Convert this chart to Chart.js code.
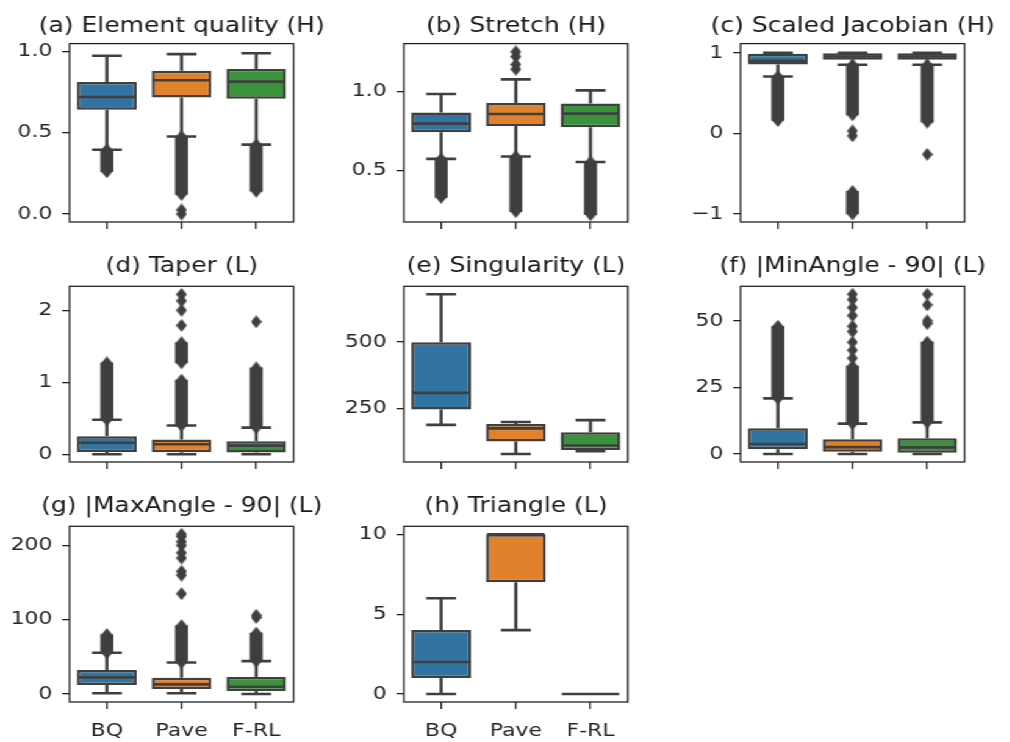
<!DOCTYPE html>
<html>
<head>
<meta charset="utf-8">
<script src="https://cdn.jsdelivr.net/npm/chart.js@4.4.0/dist/chart.umd.min.js"></script>
<style>
html, body { margin: 0; padding: 0; background: #fff; }
#fig { position: relative; width: 828px; height: 742px; transform: scaleX(1.22); transform-origin: 0 0; }
#fig canvas { position: absolute; }
</style>
</head>
<body>
<div id="fig"></div>
<script>
var categories = ['BQ', 'Pave', 'F-RL'];
var boxColors = ['#3274a1', '#e1812c', '#3a923a'];
var gray = '#3f3f3f';

// box summaries per method: [low whisker, Q1, median, Q3, high whisker]
// runs = dense outlier columns [method, from, to], fliers = single outliers [method, value]
var qualityBoxes = [[0.396, 0.642, 0.72, 0.813, 0.974], [0.477, 0.718, 0.823, 0.882, 0.984], [0.427, 0.709, 0.815, 0.892, 0.99]];
var qualityRuns = [[0, 0.26, 0.396], [1, 0.12, 0.477], [2, 0.14, 0.427]];
var qualityFliers = [[1, 0.0], [1, 0.025]];
var qualityTicks = [0, 0.5, 1];
var qualityLabels = ['0.0', '0.5', '1.0'];

var stretchBoxes = [[0.573, 0.742, 0.796, 0.866, 0.983], [0.588, 0.781, 0.857, 0.926, 1.076], [0.553, 0.773, 0.859, 0.924, 1.006]];
var stretchRuns = [[0, 0.33, 0.573], [1, 0.24, 0.588], [2, 0.22, 0.553]];
var stretchFliers = [[1, 1.14], [1, 1.17], [1, 1.22], [1, 1.25]];
var stretchTicks = [0.5, 1];
var stretchLabels = ['0.5', '1.0'];

var jacobianBoxes = [[0.707, 0.856, 0.90, 0.99, 1.0], [0.852, 0.913, 0.954, 0.995, 1.0], [0.852, 0.913, 0.955, 0.995, 1.0]];
var jacobianRuns = [[0, 0.16, 0.707], [1, 0.23, 0.852], [1, -1.0, -0.72], [2, 0.14, 0.852]];
var jacobianFliers = [[1, 0.03], [1, -0.03], [2, -0.26]];
var jacobianTicks = [-1, 0, 1];
var jacobianLabels = ['\u22121', '0', '1'];

var taperBoxes = [[0, 0.032, 0.16, 0.25, 0.48], [0, 0.028, 0.139, 0.204, 0.40], [0, 0.025, 0.12, 0.18, 0.37]];
var taperRuns = [[0, 0.48, 1.27], [1, 0.40, 1.03], [1, 1.27, 1.55], [2, 0.37, 1.2]];
var taperFliers = [[1, 1.79], [1, 2.0], [1, 2.13], [1, 2.22], [2, 1.84]];
var taperTicks = [0, 1, 2];
var taperLabels = ['0', '1', '2'];

var singularityBoxes = [[187, 245, 308, 499, 680], [77, 124, 174, 190, 198], [88, 92, 109, 159, 205]];
var singularityTicks = [250, 500];
var singularityLabels = ['250', '500'];

var minAngleBoxes = [[0, 1.77, 3.76, 9.66, 20.9], [0, 0.87, 2.6, 5.5, 11.4], [0, 0.5, 2.5, 5.9, 11.9]];
var minAngleRuns = [[0, 20.9, 48], [1, 11.4, 33], [2, 11.9, 42]];
var minAngleFliers = [[1, 36], [1, 39], [1, 42], [1, 46], [1, 48], [1, 52], [1, 55], [1, 58], [1, 60], [2, 49], [2, 50], [2, 56], [2, 60]];
var minAngleTicks = [0, 25, 50];
var minAngleLabels = ['0', '25', '50'];

var maxAngleBoxes = [[1, 12.1, 22.4, 32.2, 55.5], [1, 6.7, 13, 21.9, 42.5], [0, 4, 9.8, 23, 44.3]];
var maxAngleRuns = [[0, 55.5, 80], [1, 42.5, 92], [2, 44.3, 82]];
var maxAngleFliers = [[1, 135], [1, 160], [1, 165], [1, 183], [1, 190], [1, 200], [1, 205], [1, 212], [1, 215], [2, 103], [2, 106]];
var maxAngleTicks = [0, 100, 200];
var maxAngleLabels = ['0', '100', '200'];

var triangleBoxes = [[0, 1, 2, 4, 6], [4, 7, 10, 10, 10], [0, 0, 0, 0, 0]];
var triangleTicks = [0, 5, 10];
var triangleLabels = ['0', '5', '10'];

var panels = [
    { title: '(a) Element quality (H)', boxes: qualityBoxes, runs: qualityRuns, fliers: qualityFliers, ticks: qualityTicks, labels: qualityLabels, range: [-0.049, 1.049], col: 0, row: 0 },
    { title: '(b) Stretch (H)', boxes: stretchBoxes, runs: stretchRuns, fliers: stretchFliers, ticks: stretchTicks, labels: stretchLabels, range: [0.174, 1.302], col: 1, row: 0 },
    { title: '(c) Scaled Jacobian (H)', boxes: jacobianBoxes, runs: jacobianRuns, fliers: jacobianFliers, ticks: jacobianTicks, labels: jacobianLabels, range: [-1.1, 1.115], col: 2, row: 0 },
    { title: '(d) Taper (L)', boxes: taperBoxes, runs: taperRuns, fliers: taperFliers, ticks: taperTicks, labels: taperLabels, range: [-0.107, 2.333], col: 0, row: 1 },
    { title: '(e) Singularity (L)', boxes: singularityBoxes, runs: [], fliers: [], ticks: singularityTicks, labels: singularityLabels, range: [47, 710], col: 1, row: 1 },
    { title: '(f) |MinAngle - 90| (L)', boxes: minAngleBoxes, runs: minAngleRuns, fliers: minAngleFliers, ticks: minAngleTicks, labels: minAngleLabels, range: [-3, 63], col: 2, row: 1 },
    { title: '(g) |MaxAngle - 90| (L)', boxes: maxAngleBoxes, runs: maxAngleRuns, fliers: maxAngleFliers, ticks: maxAngleTicks, labels: maxAngleLabels, range: [-10.75, 225.75], col: 0, row: 2 },
    { title: '(h) Triangle (L)', boxes: triangleBoxes, runs: [], fliers: [], ticks: triangleTicks, labels: triangleLabels, range: [-0.5, 10.5], col: 1, row: 2 }
];

// layout in page pixels (the figure is stretched horizontally by S)
var S = 1.22;
var colLeft = [69, 404, 740];
var plotW = 224;
var rowTop = [43.3, 286, 526];
var rowBottom = [221.7, 461.7, 701.7];
var titleMid = [26, 266, 506];
var titleSize = 20.5;

Chart.defaults.font.family = 'DejaVu Sans';
Chart.defaults.color = '#262626';

// thin diamond marker like seaborn fliers
function makeDiamond() {
    var c = document.createElement('canvas');
    c.width = 9;
    c.height = 13;
    var g = c.getContext('2d');
    g.fillStyle = gray;
    g.beginPath();
    g.moveTo(4.5, 0);
    g.lineTo(9, 6.5);
    g.lineTo(4.5, 13);
    g.lineTo(0, 6.5);
    g.closePath();
    g.fill();
    return c;
}
var diamond = makeDiamond();

// whiskers, caps and medians, drawn right after the boxes
var whiskerPlugin = {
    id: 'whiskers',
    afterDatasetDraw: function (chart, args) {
        if (args.index !== 0) return;
        var boxes = chart.options.plugins.whiskers.boxes;
        var y = chart.scales.y;
        var ctx = chart.ctx;
        ctx.save();
        ctx.strokeStyle = gray;
        ctx.lineWidth = 2.6;
        chart.getDatasetMeta(0).data.forEach(function (bar, i) {
            var b = boxes[i];
            var half = bar.width / 2;
            var lo = y.getPixelForValue(b[0]);
            var q1 = y.getPixelForValue(b[1]);
            var med = y.getPixelForValue(b[2]);
            var q3 = y.getPixelForValue(b[3]);
            var hi = y.getPixelForValue(b[4]);
            ctx.beginPath();
            ctx.moveTo(bar.x, q1); ctx.lineTo(bar.x, lo);
            ctx.moveTo(bar.x, q3); ctx.lineTo(bar.x, hi);
            ctx.moveTo(bar.x - half / 2, lo); ctx.lineTo(bar.x + half / 2, lo);
            ctx.moveTo(bar.x - half / 2, hi); ctx.lineTo(bar.x + half / 2, hi);
            ctx.moveTo(bar.x - half + 1, med); ctx.lineTo(bar.x + half - 1, med);
            ctx.stroke();
        });
        ctx.restore();
    }
};

// axes frame on all four sides
var framePlugin = {
    id: 'frame',
    afterDraw: function (chart) {
        var a = chart.chartArea;
        var ctx = chart.ctx;
        ctx.save();
        ctx.strokeStyle = '#222';
        ctx.lineWidth = 1.3;
        ctx.strokeRect(a.left, a.top, a.right - a.left, a.bottom - a.top);
        ctx.restore();
    }
};

function noPadding(s) {
    s.paddingTop = 0;
    s.paddingBottom = 0;
    s.paddingLeft = 0;
    s.paddingRight = 0;
}

function makePanel(p) {
    var M = 48;
    var pl = colLeft[p.col] / S;
    var pw = plotW / S;
    var titleH = titleSize * 1.2;
    var top = titleMid[p.row] - titleH / 2;
    var xh = p.row === 2 ? 46 : 10;
    var canvas = document.createElement('canvas');
    canvas.width = Math.round(pw + 2 * M);
    canvas.height = Math.round(rowBottom[p.row] - top + xh);
    canvas.style.left = (pl - M) + 'px';
    canvas.style.top = top + 'px';
    document.getElementById('fig').appendChild(canvas);
    var rightW = canvas.width - M - pw;
    var axisH = canvas.height - (rowBottom[p.row] - top);

    var flierData = p.fliers.map(function (f) {
        return { x: categories[f[0]], y: f[1] };
    });
    p.runs.forEach(function (r) {
        flierData.push({ x: categories[r[0]], y: r[1] });
        flierData.push({ x: categories[r[0]], y: r[2] });
    });

    new Chart(canvas, {
        type: 'bar',
        data: {
            labels: categories,
            datasets: [
                {
                    data: p.boxes.map(function (b) { return [b[1], b[3]]; }),
                    backgroundColor: boxColors,
                    borderColor: gray,
                    borderWidth: 2.5,
                    borderSkipped: false,
                    grouped: false,
                    categoryPercentage: 0.8,
                    barPercentage: 1,
                    yAxisID: 'y',
                    order: 3
                },
                {
                    data: p.runs.map(function (r) { return { x: categories[r[0]], y: [r[1], r[2]] }; }),
                    backgroundColor: gray,
                    borderWidth: 0,
                    barThickness: 10,
                    grouped: false,
                    yAxisID: 'y',
                    order: 2
                },
                {
                    type: 'line',
                    data: flierData,
                    showLine: false,
                    pointStyle: diamond,
                    pointRadius: 6,
                    yAxisID: 'y',
                    order: 1
                }
            ]
        },
        options: {
            responsive: false,
            animation: false,
            events: [],
            layout: { padding: 0 },
            plugins: {
                legend: { display: false },
                tooltip: { enabled: false },
                title: {
                    display: true,
                    text: p.title,
                    color: '#1a1a1a',
                    font: { size: titleSize, weight: 'normal', lineHeight: 1.2 },
                    padding: { top: 0, bottom: rowTop[p.row] - top - titleH }
                },
                whiskers: { boxes: p.boxes }
            },
            scales: {
                x: {
                    offset: true,
                    border: { display: false },
                    grid: { drawOnChartArea: false, drawTicks: true, tickLength: 7, offset: false, color: '#222', lineWidth: 1.3 },
                    ticks: { display: p.row === 2, font: { size: 18 }, padding: 12, maxRotation: 0, autoSkip: false },
                    afterFit: function (s) { s.height = axisH; noPadding(s); }
                },
                y: {
                    type: 'linear',
                    position: 'left',
                    min: p.range[0],
                    max: p.range[1],
                    bounds: 'data',
                    border: { display: false },
                    grid: { drawOnChartArea: false, drawTicks: true, tickLength: 6, color: '#222', lineWidth: 1.3 },
                    afterBuildTicks: function (s) {
                        s.ticks = p.ticks.map(function (v) { return { value: v }; });
                    },
                    ticks: {
                        font: { size: 18 },
                        padding: 8,
                        callback: function (v) { return p.labels[p.ticks.indexOf(v)]; }
                    },
                    afterFit: function (s) { s.width = M; noPadding(s); }
                },
                yRight: {
                    type: 'linear',
                    position: 'right',
                    border: { display: false },
                    grid: { display: false },
                    ticks: { display: false },
                    afterFit: function (s) { s.width = rightW; noPadding(s); }
                }
            }
        },
        plugins: [whiskerPlugin, framePlugin]
    });
}

panels.forEach(makePanel);
</script>
</body>
</html>
